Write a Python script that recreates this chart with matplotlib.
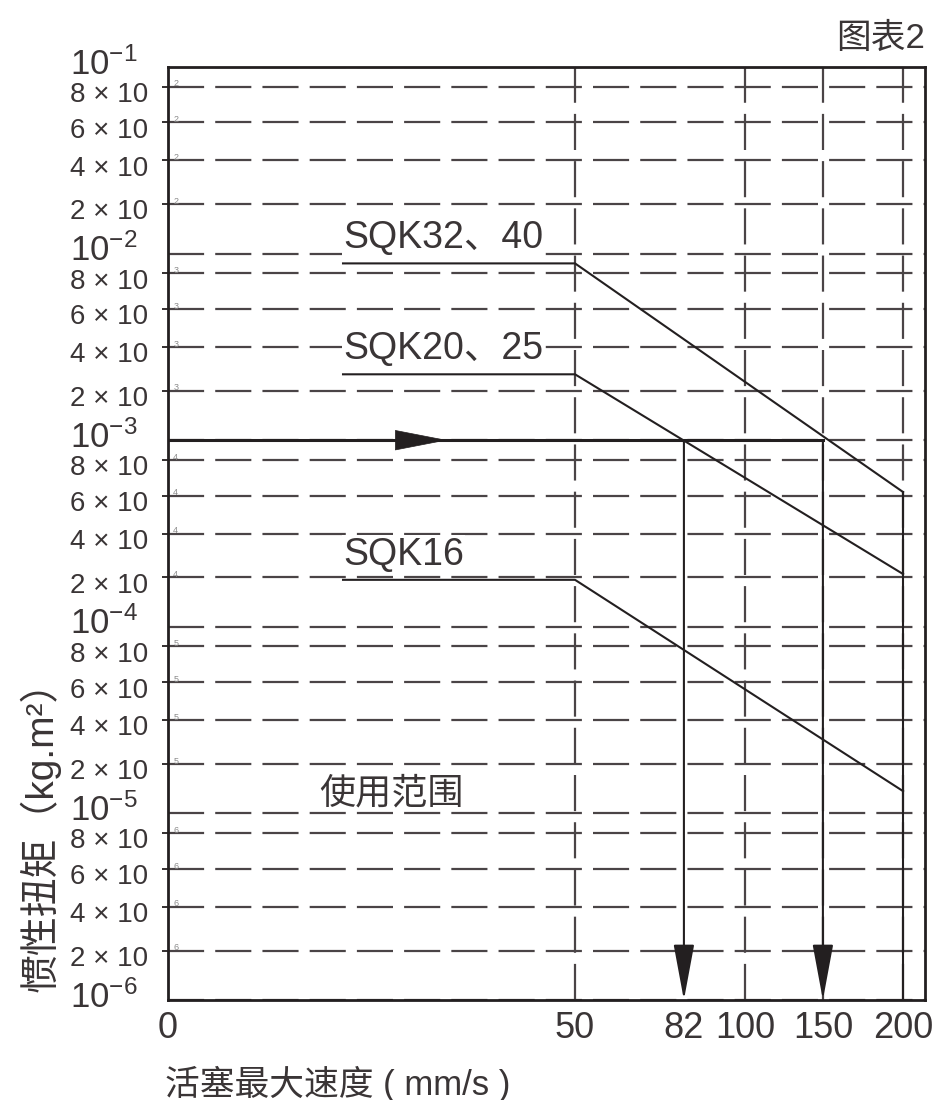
import numpy as np
import matplotlib
matplotlib.use('Agg')
import matplotlib.pyplot as plt
from matplotlib import transforms
from matplotlib.ticker import NullFormatter

plt.rcParams['font.family'] = ['Liberation Sans', 'Noto Sans CJK SC']
plt.rcParams['mathtext.fontset'] = 'custom'
plt.rcParams['mathtext.rm'] = 'Liberation Sans'
plt.rcParams['lines.scale_dashes'] = False

# ---- data ----
speed_ticks = [0, 50, 82, 100, 150, 200]
speed_grid = [50, 100, 150, 200]
series_names = ['SQK32、40', 'SQK20、25', 'SQK16']
label_speed = 21.5
knee_speed = 50
end_speed = 200
inertia_flat = [9.0e-3, 2.75e-3, 1.95e-4]
inertia_end = [6.2e-4, 2.15e-4, 1.45e-5]
example_inertia = 1e-3
example_speeds = [82, 150]
decades = [-1, -2, -3, -4, -5, -6]
mantissas = [2, 4, 6, 8]
y_min, y_max = 1e-6, 1e-1
x_max = 213.7

# ---- axis layout of the printed chart (not a plain log scale) ----
x_knots = [0, 50, 100, 150, 200, 300]
x_pos = [0, 1.0, 1.418, 1.609, 1.806, 2.199]
m_knots = [1, 2, 4, 6, 8, 10]
m_pos = [0, 0.265, 0.5, 0.703, 0.895, 1.0]


def fx(x):
    return np.interp(np.asarray(x, float), x_knots, x_pos)


def fx_inv(v):
    return np.interp(np.asarray(v, float), x_pos, x_knots)


def fy(y):
    y = np.asarray(y, float)
    y = np.where(y > 0, y, 1e-300)
    lg = np.log10(y)
    d = np.floor(lg + 1e-12)
    return d + np.interp(10 ** (lg - d), m_knots, m_pos)


def fy_inv(v):
    v = np.asarray(v, float)
    d = np.floor(v)
    return 10 ** d * np.interp(v - d, m_pos, m_knots)


ink = '#231f20'
grid_c = '#4a4446'
text_c = '#3a3536'
dash = (0, (26, 8))

fig = plt.figure(figsize=(9.34, 11), dpi=100)
ax = fig.add_axes([168 / 934, 100 / 1100, 757 / 934, 933 / 1100])
ax.set_xscale('function', functions=(fx, fx_inv))
ax.set_yscale('function', functions=(fy, fy_inv))
ax.set_xlim(0, x_max)
ax.set_ylim(y_min, y_max)

major_y = [10.0 ** d for d in decades]
minor_y = [m * 10.0 ** d for d in decades[1:] for m in mantissas]
ax.set_yticks(major_y)
ax.set_yticks(minor_y, minor=True)
ax.yaxis.set_major_formatter(NullFormatter())
ax.yaxis.set_minor_formatter(NullFormatter())
ax.tick_params(axis='y', which='major', length=0)
ax.tick_params(axis='y', which='minor', length=4.5, width=1.3, color=ink, direction='out')
ax.grid(axis='y', which='both', linestyle=dash, color=grid_c, lw=1.6, zorder=0)

ax.set_xticks(speed_ticks)
ax.set_xticklabels([str(s) for s in speed_ticks])
ax.tick_params(axis='x', length=0, pad=8, labelsize=26, labelcolor=text_c)
ax.xaxis.set_minor_formatter(NullFormatter())
ax.tick_params(axis='x', which='minor', length=0)

for x in speed_grid:
    ax.axvline(x, linestyle=dash, color=grid_c, lw=1.6, zorder=0)

for sp in ax.spines.values():
    sp.set_linewidth(2.0)
    sp.set_color(ink)

# y labels drawn by hand: left aligned like the print
ytr = transforms.blended_transform_factory(ax.transAxes, ax.transData)
major_tr = transforms.offset_copy(ytr, fig=fig, x=0, y=2, units='points')
for d in decades:
    ax.text(-0.1295, 10.0 ** d, r'$\mathregular{10^{%d}}$' % d, transform=major_tr,
            ha='left', va='center', fontsize=25, color=text_c, clip_on=False)
minor_tr = transforms.offset_copy(ytr, fig=fig, x=0, y=-6, units='points')
tiny_tr = transforms.offset_copy(ytr, fig=fig, x=0, y=2, units='points')
for d in decades[1:]:
    for m in mantissas:
        ax.text(-0.1295, m * 10.0 ** d, '%d × 10' % m, transform=minor_tr,
                ha='left', va='center', fontsize=20, color=text_c, clip_on=False)
        ax.text(0.007, m * 10.0 ** d, str(-d), transform=tiny_tr,
                ha='left', va='center', fontsize=6.5, color='#8a8a8a')

# series lines
lab_tr = transforms.offset_copy(ax.transData, fig=fig, x=0, y=5, units='points')
for name, y0, y1 in zip(series_names, inertia_flat, inertia_end):
    ax.plot([label_speed, knee_speed, end_speed], [y0, y0, y1], color=ink, lw=1.5, zorder=4)
    ax.text(label_speed, y0, name, transform=lab_tr, ha='left', va='bottom',
            fontsize=27, color=text_c, zorder=3,
            bbox=dict(facecolor='white', edgecolor='none', pad=1))
ax.plot([end_speed, end_speed], [inertia_end[0], y_min], color=ink, lw=1.5, zorder=4)

# worked example with arrows
ax.plot([0, max(example_speeds)], [example_inertia, example_inertia], color=ink, lw=2.2, zorder=5)
ax.annotate('', xy=(34.3, example_inertia), xytext=(26, example_inertia),
            arrowprops=dict(arrowstyle='-|>,head_length=3.6,head_width=0.7',
                            mutation_scale=10, color=ink, lw=0.5,
                            shrinkA=0, shrinkB=0), zorder=6)
for s in example_speeds:
    ax.annotate('', xy=(s, y_min), xytext=(s, example_inertia),
                arrowprops=dict(arrowstyle='-|>,head_length=3.5,head_width=0.65',
                                mutation_scale=10, color=ink, lw=1.5,
                                shrinkA=0, shrinkB=0), zorder=6)

ax.text(27.4, 1.4e-5, '使用范围', ha='center', va='center', fontsize=26, color=text_c)

fig.text(925 / 934, 1045 / 1100, '图表2', ha='right', va='bottom', fontsize=25, color=text_c)
fig.text(40 / 934, 108 / 1100, '惯性扭矩（kg.m²）', rotation=90, ha='center', va='bottom',
         fontsize=28, color=text_c)
fig.text(165 / 934, 34 / 1100, '活塞最大速度 ( mm/s )', ha='left', va='top',
         fontsize=25, color=text_c)

fig.savefig('out.png', dpi=100)
